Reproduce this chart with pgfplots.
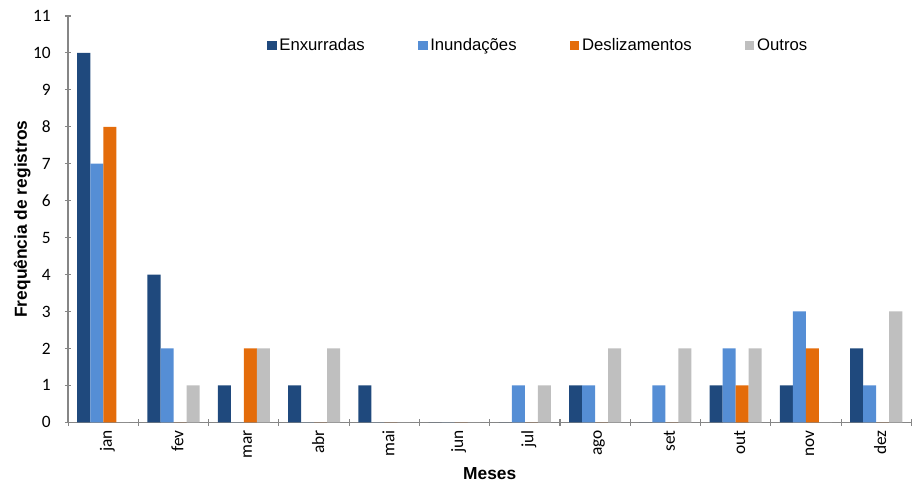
\documentclass[border=0pt]{standalone}
\usepackage{pgfplots}
\pgfplotsset{compat=1.18}
\usepackage{fontspec}
\setmainfont{Liberation Sans}
\newfontfamily\tickfont{Carlito}
\definecolor{enx}{RGB}{31,73,125}
\definecolor{inu}{RGB}{85,142,213}
\definecolor{des}{RGB}{228,108,10}
\definecolor{out}{RGB}{191,191,191}
\definecolor{axgray}{RGB}{134,134,134}
\begin{document}
\begin{tikzpicture}
\begin{axis}[
  name=ax,
  scale only axis,
  width=631pt, height=304pt,
  ybar=0pt, bar width=9.75pt,
  xmin=-0.5, xmax=11.5,
  ymin=0, ymax=11,
  ytick={0,1,...,11},
  xtick={0,...,11},
  xticklabels={jan,fev,mar,abr,mai,jun,jul,ago,set,out,nov,dez},
  major x tick style={draw=none},
  minor xtick={-0.5,0.5,...,11.5},
  minor tick length=5pt,
  tick align=outside,
  major tick length=5pt,
  tick style={axgray, line width=0.8pt},
  axis lines=left,
  axis line style={-, axgray, line width=1pt},
  xticklabel style={rotate=90, anchor=east, yshift=-3pt, font=\tickfont\fontsize{13}{15}\selectfont},
  yticklabel style={xshift=-7pt, font=\tickfont\fontsize{13}{15}\selectfont},
  /pgf/number format/assume math mode=true,
  xlabel={\textbf{Meses}},
  ylabel={\textbf{Frequência de registros}},
  label style={font=\fontsize{13}{15}\selectfont},
  ylabel style={yshift=-5pt},
  legend style={at={(0.558,0.928)}, anchor=center, draw=none, fill=none,
    legend columns=4, font=\fontsize{12.5}{14}\selectfont,
    /tikz/every even column/.append style={column sep=38pt}},
  legend image code/.code={\fill[#1] (0pt,-3.5pt) rectangle (7pt,3.5pt);},
]
\addplot[fill=enx, draw=none] coordinates {(0,10) (1,4) (2,1) (3,1) (4,1) (5,0) (6,0) (7,1) (8,0) (9,1) (10,1) (11,2)};
\addplot[fill=inu, draw=none] coordinates {(0,7) (1,2) (2,0) (3,0) (4,0) (5,0) (6,1) (7,1) (8,1) (9,2) (10,3) (11,1)};
\addplot[fill=des, draw=none] coordinates {(0,8) (1,0) (2,2) (3,0) (4,0) (5,0) (6,0) (7,0) (8,0) (9,1) (10,2) (11,0)};
\addplot[fill=out, draw=none] coordinates {(0,0) (1,1) (2,2) (3,2) (4,0) (5,0) (6,1) (7,2) (8,2) (9,2) (10,0) (11,3)};
\legend{Enxurradas,Inundações,Deslizamentos,Outros}
\end{axis}
\path (ax.north west) ++(0,12pt) coordinate (topgap);
\path (topgap) -- (ax.north west);
\path (ax.south west) -- ++(-51pt,0);
\end{tikzpicture}
\end{document}
